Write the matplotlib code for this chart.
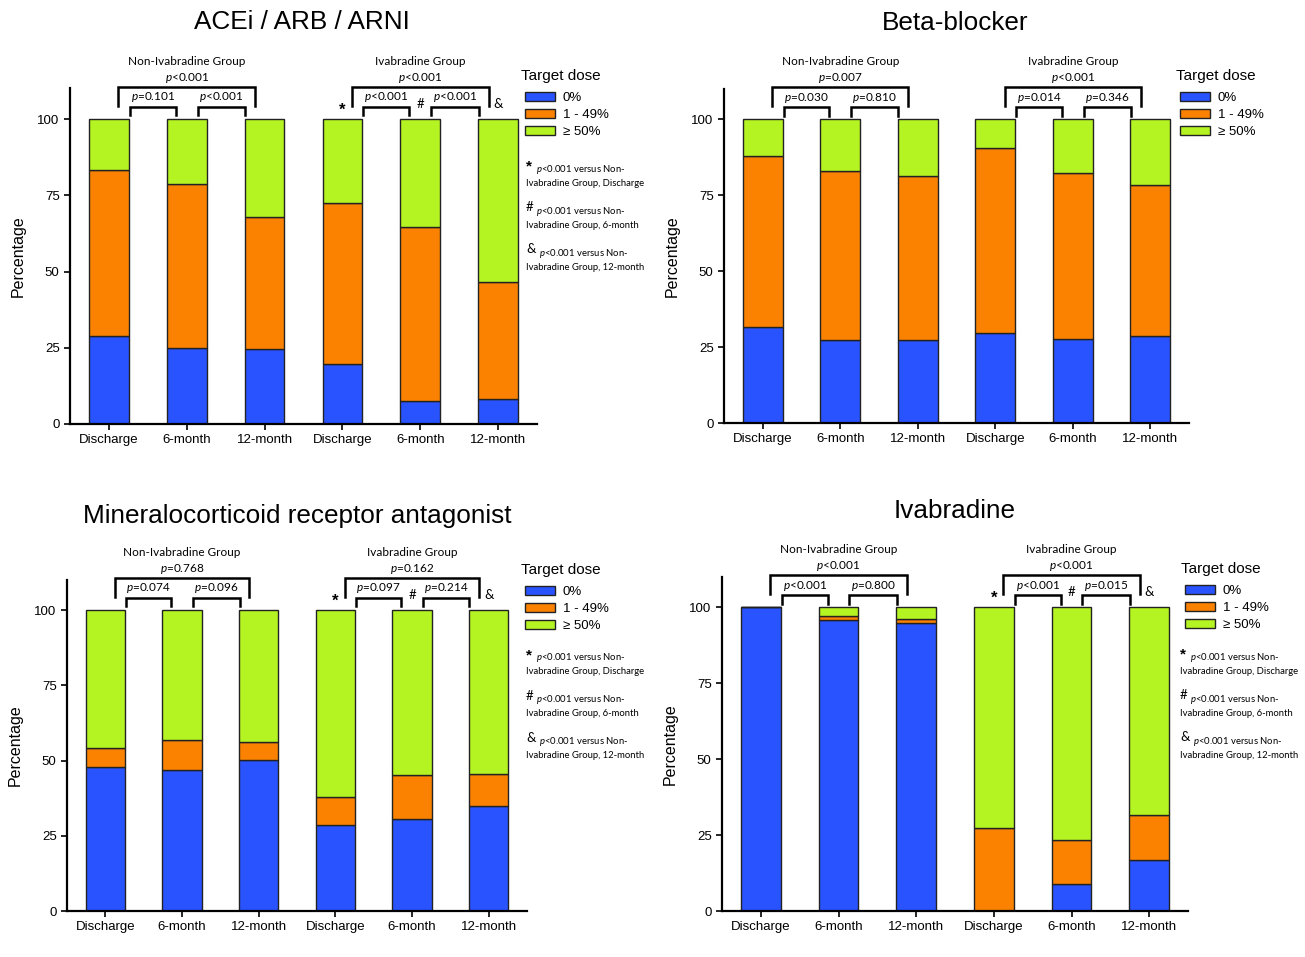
import matplotlib
matplotlib.use('Agg')
import matplotlib.pyplot as plt
from matplotlib.patches import Patch
import numpy as np

plt.rcParams['font.family'] = 'Liberation Sans'
plt.rcParams['mathtext.fontset'] = 'custom'
plt.rcParams['mathtext.it'] = 'Lato:italic'
plt.rcParams['mathtext.rm'] = 'Lato'

# Time points, repeated for each group
timepoints = ['Discharge', '6-month', '12-month', 'Discharge', '6-month', '12-month']
dose_labels = ['0%', '1 - 49%', '\u2265 50%']
dose_colors = ['#2953FF', '#FA8200', '#B5F423']

# Percentage of patients at each target dose level
acei_zero = [28.9, 24.9, 24.6, 19.7, 7.5, 8.2]
acei_low = [54.4, 53.8, 43.3, 52.6, 57.1, 38.4]
acei_high = [16.7, 21.3, 32.1, 27.7, 35.4, 53.4]

beta_zero = [31.6, 27.3, 27.3, 29.6, 27.6, 28.6]
beta_low = [56.2, 55.6, 54.0, 60.9, 54.6, 49.7]
beta_high = [12.2, 17.1, 18.7, 9.5, 17.8, 21.7]

mra_zero = [47.8, 46.8, 50.2, 28.6, 30.6, 34.9]
mra_low = [6.4, 10.0, 5.9, 9.3, 14.6, 10.6]
mra_high = [45.8, 43.2, 43.9, 62.1, 54.8, 54.5]

iva_zero = [100.0, 95.7, 94.7, 0.0, 8.9, 16.8]
iva_low = [0.0, 1.3, 1.4, 27.3, 14.5, 14.8]
iva_high = [0.0, 3.0, 3.9, 72.7, 76.6, 68.4]

# p-values: [overall, discharge vs 6-month, 6-month vs 12-month] per group
acei_p_non = ['$p$<0.001', '$p$=0.101', '$p$<0.001']
acei_p_iva = ['$p$<0.001', '$p$<0.001', '$p$<0.001']
beta_p_non = ['$p$=0.007', '$p$=0.030', '$p$=0.810']
beta_p_iva = ['$p$<0.001', '$p$=0.014', '$p$=0.346']
mra_p_non = ['$p$=0.768', '$p$=0.074', '$p$=0.096']
mra_p_iva = ['$p$=0.162', '$p$=0.097', '$p$=0.214']
iva_p_non = ['$p$<0.001', '$p$<0.001', '$p$=0.800']
iva_p_iva = ['$p$<0.001', '$p$<0.001', '$p$=0.015']

group_names = ['Non-Ivabradine Group', 'Ivabradine Group']
symbols = ['*', '#', '&']
footnotes = ['Discharge', '6-month', '12-month']

W, H = 1305, 957
fig = plt.figure(figsize=(W / 100, H / 100), dpi=100)


def fx(px):
    return px / W


def fy(py):
    return 1 - py / H


def bracket(ax, x0, x1, y, drop):
    ax.plot([x0, x0, x1, x1], [y - drop, y, y, y - drop], color='black',
            lw=1.8, clip_on=False, solid_joinstyle='miter')


def mark_text(ax, x, y, sym, **kw):
    # the asterisk glyph sits high, so it is drawn a little larger and lower
    if sym == '*':
        return ax.text(x, y, sym, ha='center', va='center', fontsize=12,
                       fontweight='bold', **kw)
    return ax.text(x, y, sym, ha='center', va='center', fontsize=9.5,
                   family='Lato', **kw)


def panel(box, title, title_xy, zero, low, high, p_non, p_iva, marks,
          leg_xy, notes_xy):
    left, bottom, width, height = box
    ax = fig.add_axes([fx(left), fy(bottom), width / W, height / H])
    x = np.arange(len(timepoints))
    zero = np.array(zero)
    low = np.array(low)
    high = np.array(high)
    kw = dict(width=0.51, edgecolor='#222222', linewidth=1.0)
    ax.bar(x, zero, color=dose_colors[0], **kw)
    ax.bar(x, low, bottom=zero, color=dose_colors[1], **kw)
    ax.bar(x, high, bottom=zero + low, color=dose_colors[2], **kw)

    ax.set_xlim(-0.5, 5.5)
    ax.set_ylim(0, 110)
    ax.set_yticks([0, 25, 50, 75, 100])
    ax.set_xticks(x)
    ax.set_xticklabels(timepoints)
    ax.tick_params(labelsize=9.5, width=1.2, length=4)
    ax.set_ylabel('Percentage', fontsize=11.5, labelpad=8)
    for s in ['top', 'right']:
        ax.spines[s].set_visible(False)
    for s in ['left', 'bottom']:
        ax.spines[s].set_linewidth(1.6)

    # group headers and significance brackets
    for g, pv in enumerate([p_non, p_iva]):
        o = 3 * g
        ax.text(o + 1, 119.0, group_names[g], ha='center', va='center',
                fontsize=8.5, family='Lato', clip_on=False)
        ax.text(o + 1, 113.6, pv[0], ha='center', va='center',
                fontsize=8.5, family='Lato', clip_on=False)
        bracket(ax, o + 0.12, o + 1.88, 110.5, 6.2)
        bracket(ax, o + 0.27, o + 0.86, 104.0, 2.8)
        bracket(ax, o + 1.14, o + 1.75, 104.0, 2.8)
        ax.text(o + 0.565, 107.2, pv[1], ha='center', va='center',
                fontsize=8.5, family='Lato', clip_on=False)
        ax.text(o + 1.445, 107.2, pv[2], ha='center', va='center',
                fontsize=8.5, family='Lato', clip_on=False)

    if marks:
        for i, sym in enumerate(symbols):
            y = 103.0 if sym == '*' else 105.0
            mark_text(ax, 3 + i, y, sym, clip_on=False)

    # title
    fig.text(fx(title_xy[0]), fy(title_xy[1]), title, ha='center',
             va='center', fontsize=18.8)

    # legend
    lx, ly = leg_xy
    fig.text(fx(lx), fy(ly), 'Target dose', ha='left', va='center',
             fontsize=11)
    handles = [Patch(facecolor=c, edgecolor='#222222', linewidth=1.0)
               for c in dose_colors]
    fig.legend(handles, dose_labels, loc='upper left',
               bbox_to_anchor=(fx(lx + 4), fy(ly + 16)),
               frameon=False, fontsize=9.5,
               handlelength=2.3, handleheight=0.62,
               labelspacing=0.38, handletextpad=0.55, borderpad=0,
               borderaxespad=0)

    if marks:
        nx, ny = notes_xy
        for i, sym in enumerate(symbols):
            y = ny + 42 * i
            if sym == '*':
                fig.text(fx(nx), fy(y - 2), sym, ha='left', va='center',
                         fontsize=11, fontweight='bold')
            else:
                fig.text(fx(nx), fy(y - 3), sym, ha='left', va='center',
                         fontsize=9.5, family='Lato')
            gap = 13 if sym == '&' else 10
            fig.text(fx(nx + gap), fy(y + 1),
                     '$p$<0.001 versus Non-', ha='left', va='center',
                     fontsize=6.8, family='Lato')
            fig.text(fx(nx), fy(y + 15),
                     'Ivabradine Group, ' + footnotes[i], ha='left',
                     va='center', fontsize=6.8, family='Lato')
    return ax


panel((70, 424, 467, 335.5), 'ACEi / ARB / ARNI', (302, 22),
      acei_zero, acei_low, acei_high, acei_p_non, acei_p_iva, True,
      (521, 76), (526, 168))
panel((724, 423, 465, 334), 'Beta-blocker', (955, 23),
      beta_zero, beta_low, beta_high, beta_p_non, beta_p_iva, False,
      (1176, 76), None)
panel((67, 911, 460, 331), 'Mineralocorticoid receptor antagonist', (297, 516),
      mra_zero, mra_low, mra_high, mra_p_non, mra_p_iva, True,
      (521, 570), (526, 657))
panel((722, 911, 466, 334), 'Ivabradine', (955, 511),
      iva_zero, iva_low, iva_high, iva_p_non, iva_p_iva, True,
      (1181, 569), (1180, 656))

fig.savefig('out.png', dpi=100)
